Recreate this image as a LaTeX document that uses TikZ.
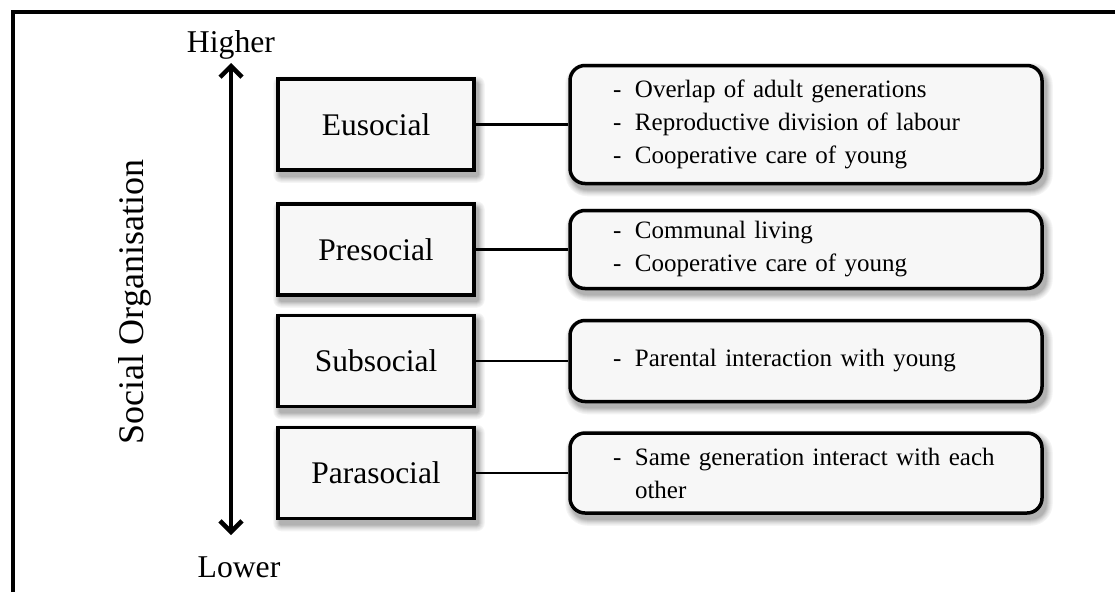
\documentclass[tikz,border=0pt]{standalone}
\usepackage{fontspec}
\setmainfont{Liberation Serif}
\usetikzlibrary{arrows.meta,calc,backgrounds}

% one bullet line of a trait list: dash, then the text
\newcommand{\traititem}[1]{\makebox[22pt][l]{-}#1}
\newcommand{\traitcont}[1]{\hspace*{22pt}#1}

% soft drop shadow behind a node, built from opaque layers
% #1 = node name, #2 = corner radius of the node
\newcommand{\dropshadow}[2]{%
  \foreach \e/\c in {6/4,5/7,4/11,3/15,2/20,1/25,0/30}{%
    \fill[black!\c,rounded corners={(#2+\e+1)*1pt}]
      ($(#1.north west)+(3-\e,5-\e)$) rectangle ($(#1.south east)+(3+\e,5+\e)$);}}

\begin{document}
\begin{tikzpicture}[x=1pt,y=-1pt,
  panelfill/.style={fill=black!3},
  levelbox/.style={draw,line width=3.5pt,minimum width=196pt,minimum height=91pt,
      inner sep=0pt,panelfill,text height=21pt,text depth=0pt,
      font=\fontsize{31.5}{38}\selectfont},
  traitbox/.style={draw,line width=3.5pt,rounded corners=15pt,minimum width=472pt,
      text width=386pt,inner xsep=43pt,inner ysep=0pt,align=left,
      panelfill,font=\fontsize{25}{33}\selectfont},
  link/.style={line width=2.5pt},
  scalearrow/.style={line width=4.5pt,
      {Straight Barb[length=11pt,width=22pt]}-{Straight Barb[length=11pt,width=22pt]}},
  endlabel/.style={anchor=base,inner sep=0pt,font=\fontsize{31.7}{38}\selectfont}]

\useasboundingbox (0,0) rectangle (1115,592);

% frame: top and left edges
\coordinate (frameTL) at (13,12);
\coordinate (frameTR) at (1115,12);
\coordinate (frameBL) at (13,592);
\draw[line width=4pt] (frameBL) -- (frameTL) -- (frameTR);

% vertical scale
\node[endlabel] (higher) at (231,52) {Higher};
\node[endlabel] (lower) at (239,577) {Lower};
\coordinate (scaletop) at (231,63);
\coordinate (scalebot) at (231,535);
\draw[scalearrow] (scalebot) -- (scaletop);
\node[rotate=90,font=\fontsize{36}{42}\selectfont] (axis) at (135,302) {Social Organisation};

% levels of social organisation
\node[levelbox] (eu)   at (376,124.5) {Eusocial};
\node[levelbox] (pre)  at (376,249.5) {Presocial};
\node[levelbox] (sub)  at (376,361)   {Subsocial};
\node[levelbox] (para) at (376,473)   {Parasocial};

% defining traits of each level
\node[traitbox,minimum height=118pt] (eut) at (806,124.5)
  {\traititem{Overlap of adult generations}\\
   \traititem{Reproductive division of labour}\\
   \traititem{Cooperative care of young}};
\node[traitbox,minimum height=78pt] (pret) at (806,249.5)
  {\traititem{Communal living}\\
   \traititem{Cooperative care of young}};
\node[traitbox,minimum height=81pt] (subt) at (806,361)
  {\traititem{Parental interaction with young}};
\node[traitbox,minimum height=80pt] (parat) at (806,473)
  {\traititem{Same generation interact with each}\\
   \traitcont{other}};

% links from level to traits
\draw[link] (eu.east) -- (eut.west);
\draw[link] (pre.east) -- (pret.west);
\draw[link] (sub.east) -- (subt.west);
\draw[link] (para.east) -- (parat.west);

% shadows behind every box
\begin{pgfonlayer}{background}
  \foreach \n in {eu,pre,sub,para}{\dropshadow{\n}{1}}
  \foreach \n in {eut,pret,subt,parat}{\dropshadow{\n}{15}}
\end{pgfonlayer}
\end{tikzpicture}
\end{document}
